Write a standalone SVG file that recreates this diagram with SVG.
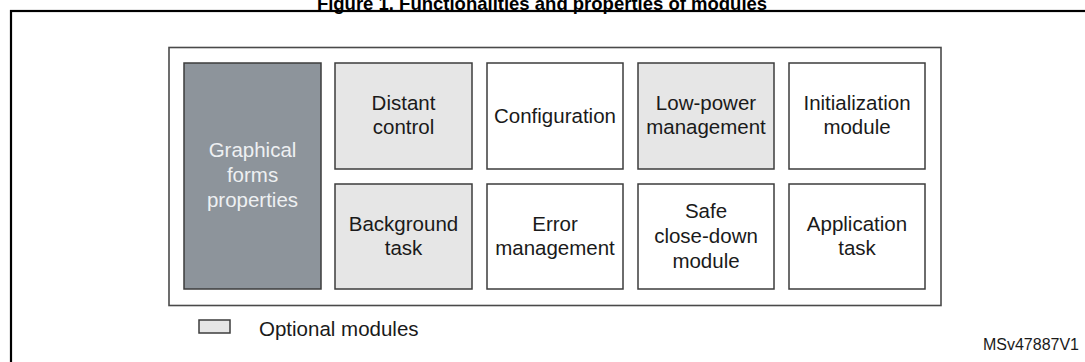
<svg xmlns="http://www.w3.org/2000/svg" width="1085" height="362" viewBox="0 0 1085 362">
  <style>
    .title { font-family: "Liberation Sans", Arial, sans-serif; font-weight: bold; font-size: 18.5px; fill: #000; }
    .lbl { font-family: "Liberation Sans", Arial, sans-serif; font-size: 20.5px; fill: #1a1a1a; text-anchor: middle; }
    .lbl-inv { font-family: "Liberation Sans", Arial, sans-serif; font-size: 20.5px; fill: #eef0f2; text-anchor: middle; }
    .note { font-family: "Liberation Sans", Arial, sans-serif; font-size: 20.5px; fill: #1a1a1a; }
    .ref { font-family: "Liberation Sans", Arial, sans-serif; font-size: 16px; fill: #1a1a1a; }
    .box { stroke: #3c3c3c; stroke-width: 1.5; }
    .plain { fill: #ffffff; }
    .opt { fill: #e6e6e6; }
    .dark { fill: #8d949b; }
  </style>

  <rect width="1085" height="362" fill="#ffffff"/>

  <!-- caption -->
  <text class="title" x="542" y="10" text-anchor="middle">Figure 1. Functionalities and properties of modules</text>

  <!-- page frame -->
  <rect x="11" y="11" width="1090" height="360" fill="none" stroke="#000" stroke-width="2.2"/>

  <!-- module container -->
  <rect x="169" y="47.5" width="772" height="258" fill="#ffffff" stroke="#4a4a4a" stroke-width="1.6"/>

  <g id="graphical-forms-properties">
    <rect class="box dark" x="184" y="63" width="137" height="226"/>
    <text class="lbl-inv" x="252.5" y="157">Graphical</text>
    <text class="lbl-inv" x="252.5" y="182">forms</text>
    <text class="lbl-inv" x="252.5" y="207">properties</text>
  </g>

  <g id="distant-control">
    <rect class="box opt" x="335" y="63" width="137" height="106"/>
    <text class="lbl" x="403.5" y="110">Distant</text>
    <text class="lbl" x="403.5" y="134">control</text>
  </g>

  <g id="configuration">
    <rect class="box plain" x="487" y="63" width="136" height="106"/>
    <text class="lbl" x="555" y="123">Configuration</text>
  </g>

  <g id="low-power-management">
    <rect class="box opt" x="638" y="63" width="136" height="106"/>
    <text class="lbl" x="706" y="110">Low-power</text>
    <text class="lbl" x="706" y="134">management</text>
  </g>

  <g id="initialization-module">
    <rect class="box plain" x="789" y="63" width="136" height="106"/>
    <text class="lbl" x="857" y="110">Initialization</text>
    <text class="lbl" x="857" y="134">module</text>
  </g>

  <g id="background-task">
    <rect class="box opt" x="335" y="184" width="137" height="105"/>
    <text class="lbl" x="403.5" y="231">Background</text>
    <text class="lbl" x="403.5" y="255">task</text>
  </g>

  <g id="error-management">
    <rect class="box plain" x="487" y="184" width="136" height="105"/>
    <text class="lbl" x="555" y="231">Error</text>
    <text class="lbl" x="555" y="255">management</text>
  </g>

  <g id="safe-close-down-module">
    <rect class="box plain" x="638" y="184" width="136" height="105"/>
    <text class="lbl" x="706" y="218">Safe</text>
    <text class="lbl" x="706" y="243">close-down</text>
    <text class="lbl" x="706" y="268">module</text>
  </g>

  <g id="application-task">
    <rect class="box plain" x="789" y="184" width="136" height="105"/>
    <text class="lbl" x="857" y="231">Application</text>
    <text class="lbl" x="857" y="255">task</text>
  </g>

  <!-- no connectors in this figure -->
  <g id="connectors"/>

  <!-- legend -->
  <g id="legend">
    <rect class="box opt" x="199" y="320" width="31" height="13"/>
    <text class="note" x="259" y="336">Optional modules</text>
  </g>

  <text class="ref" x="1079" y="350" text-anchor="end">MSv47887V1</text>
</svg>
